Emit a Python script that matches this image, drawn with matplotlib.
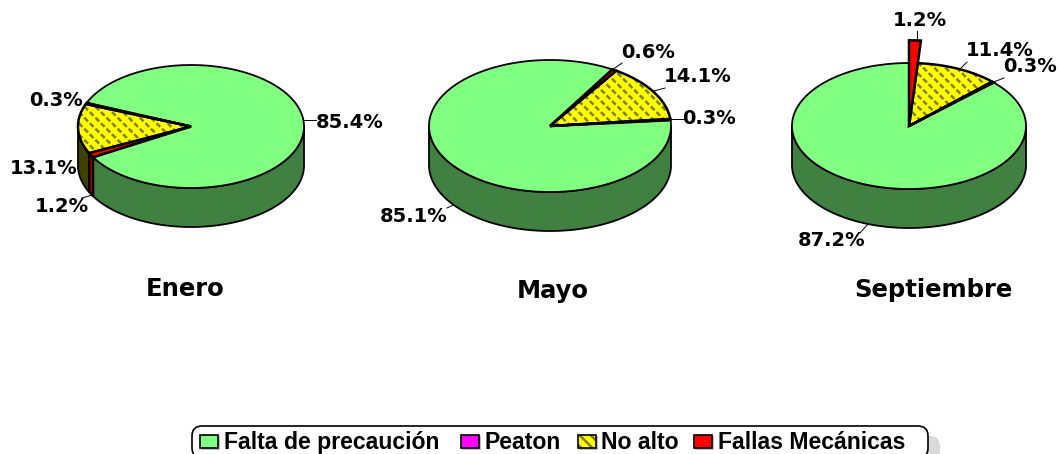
import numpy as np
import matplotlib
matplotlib.use('Agg')
import matplotlib.pyplot as plt
from matplotlib.patches import Polygon, Rectangle, FancyBboxPatch

months = ['Enero', 'Mayo', 'Septiembre']
series = ['Falta de precaución', 'Peaton', 'No alto', 'Fallas Mecánicas']

# values per month, same order as series
enero = [85.4, 0.3, 13.1, 1.2]
mayo = [85.1, 0.3, 14.1, 0.6]
septiembre = [87.2, 0.3, 11.4, 1.2]
all_values = [enero, mayo, septiembre]

# top colour, side colour
colors = ['#80ff80', '#ff00ff', '#ffff00', '#ff0000']
side_colors = ['#408040', '#800080', '#404000', '#800000']

# layout in pixels: cx, cy, rx, ry, first angle of the red slice
pies = [(191, 126.5, 113, 61.5, 210), (550, 126, 121, 66, 59), (909, 126, 117, 63, 90)]
depth = 39
title_pos = [(185, 289), (553, 291), (933, 290)]

# label x (left), label y, leader line
labels = [
    [(316, 122, [(304, 120), (316, 120)]),
     (29, 101, None),
     (10, 168, [(77, 168), (80, 168)]),
     (35, 207, [(92, 195), (82, 198)])],
    [(380, 216, [(447, 208), (460, 202)]),
     (682, 118, [(671, 119), (683, 119)]),
     (664, 77, [(654, 91), (665, 88)]),
     (621, 52, [(612, 70), (622, 63)])],
    [(798, 241, [(860, 233), (868, 224)]),
     (1003, 67, [(991, 83), (1004, 78)]),
     (966, 50, [(960, 69), (967, 62)]),
     (893, 20, [(917, 40), (917, 31)])],
]

fig = plt.figure(figsize=(10.6, 4.54), dpi=100)
ax = fig.add_axes([0, 0, 1, 1])
ax.set_xlim(0, 1060)
ax.set_ylim(454, 0)
ax.axis('off')
plt.rcParams['hatch.linewidth'] = 1.8


def arc(cx, cy, rx, ry, t):
    r = np.radians(t)
    return np.column_stack([cx + rx * np.cos(r), cy - ry * np.sin(r)])


def draw_top(cx, cy, rx, ry, a, b, i, scale=1.0):
    t = np.linspace(a, b, 200)
    pts = np.vstack([[cx, cy], arc(cx, cy, rx * scale, ry * scale, t)])
    if i == 2:
        # hatched slice, olive diagonals broken up by yellow ones
        ax.add_patch(Polygon(pts, facecolor='#ffff00', edgecolor='#808000', hatch='\\\\\\', lw=0, zorder=3))
        ax.add_patch(Polygon(pts, facecolor='none', edgecolor='#ffff00', hatch='///', lw=0, zorder=3))
        ax.add_patch(Polygon(pts, facecolor='none', edgecolor='black', lw=1.8, zorder=4, joinstyle='miter'))
    else:
        lw = 1.8 if i != 0 else 1.3
        ax.add_patch(Polygon(pts, facecolor=colors[i], edgecolor='black', lw=lw, zorder=3 if i == 0 else 5))


for values, (cx, cy, rx, ry, start), month, tpos, labs in zip(all_values, pies, months, title_pos, labels):
    total = sum(values)
    # clockwise from the red slice: red, yellow, magenta, green
    a = start
    spans = {}
    for i in [3, 2, 1, 0]:
        b = a - values[i] / total * 360
        spans[i] = (a, b)
        a = b

    # sides first
    for i in [0, 1, 2, 3]:
        a, b = spans[i]
        t = np.arange(a, b, -0.25)
        t = t[np.sin(np.radians(t)) <= 0]
        if len(t) < 2:
            continue
        top = arc(cx, cy, rx, ry, t)
        bottom = arc(cx, cy + depth, rx, ry, t[::-1])
        ax.add_patch(Polygon(np.vstack([top, bottom]), facecolor=side_colors[i], edgecolor='black', lw=1.3, zorder=2))

    for i in [0, 2, 1, 3]:
        a, b = spans[i]
        if month == 'Septiembre' and i == 3:
            # this slice is pulled out of the pie
            draw_top(cx, cy, rx, ry, a, b, i, scale=1.36)
        else:
            draw_top(cx, cy, rx, ry, a, b, i)

    for v, (lx, ly, line) in zip(values, labs):
        ax.text(lx, ly, f'{v}%', fontsize=14, fontweight='bold', family='DejaVu Sans',
                ha='left', va='center', color='black', zorder=6)
        if line:
            ax.plot([line[0][0], line[1][0]], [line[0][1], line[1][1]], color='black', lw=0.7, zorder=1)

    ax.text(tpos[0], tpos[1], month, fontsize=17.5, fontweight='bold', family='DejaVu Sans',
            ha='center', va='center', color='black')

# legend, cut by the bottom edge as in the picture
ax.add_patch(FancyBboxPatch((204, 436), 736, 32, boxstyle='round,pad=0,rounding_size=10',
                            facecolor='#d9d9d9', edgecolor='none', zorder=1))
ax.add_patch(FancyBboxPatch((192, 426), 736, 32, boxstyle='round,pad=0,rounding_size=10',
                            facecolor='white', edgecolor='black', lw=1.2, zorder=2))

key_x = [200, 461, 578, 694]
text_x = [224, 485, 601, 718]
for i, name in enumerate(series):
    ax.add_patch(Rectangle((key_x[i] + 1, 436), 19, 14, facecolor='#c0c0c0', edgecolor='none', zorder=3))
    if i == 2:
        ax.add_patch(Rectangle((key_x[i], 435), 18, 13, facecolor=colors[i], edgecolor='#808000',
                               hatch='\\\\\\', lw=0, zorder=4))
        ax.add_patch(Rectangle((key_x[i], 435), 18, 13, facecolor='none', edgecolor='black', lw=1.2, zorder=5))
    else:
        ax.add_patch(Rectangle((key_x[i], 435), 18, 13, facecolor=colors[i], edgecolor='black', lw=1.2, zorder=4))
    ax.text(text_x[i], 449, name, fontsize=16.6, fontweight='bold', family='Liberation Sans',
            ha='left', va='baseline', color='black', zorder=5)

fig.savefig('out.png', dpi=100)
